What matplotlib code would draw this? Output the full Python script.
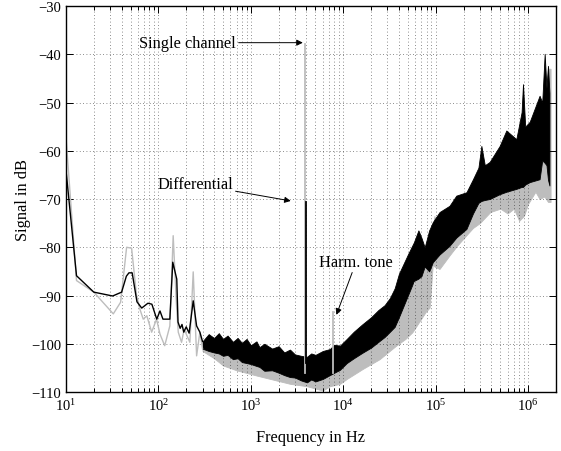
import matplotlib
matplotlib.use("Agg")
import matplotlib.pyplot as plt

plt.rcParams['font.family'] = ['Liberation Serif', 'DejaVu Serif']
plt.rcParams['mathtext.fontset'] = 'custom'
plt.rcParams['mathtext.rm'] = 'Liberation Serif'
plt.rcParams['mathtext.it'] = 'Liberation Serif:italic'

#low frequency part, single trace (Hz, dB)
black_f = [10, 13, 20, 32, 40, 45, 48, 52, 58.6, 66, 77, 85, 96, 104, 112, 133, 143, 158, 163,
           172, 180, 188, 200, 215, 238, 259, 281, 300]
black_db = [-64.0, -85.9, -89.3, -90.1, -89.3, -86.0, -85.3, -85.3, -91.3, -92.6, -91.6, -91.8, -94.9, -93.2, -94.9, -94.9, -83.1, -86.6, -95.5,
            -96.8, -96.0, -97.6, -96.5, -97.8, -91.1, -96.3, -97.6, -99.5]

grey_f = [10, 13, 20, 32.5, 39, 45.3, 51.3, 58, 63, 68.5, 75, 84.5, 95.5, 104, 117, 133, 144.5, 157, 164, 178,
          190, 219, 238, 259, 281, 300]
grey_db = [-57.2, -86.9, -89.3, -93.8, -91.4, -80.0, -80.2, -90.0, -92.8, -94.9, -94.2, -97.6, -94.9, -98.0, -100.4, -96.3, -77.6, -92.1, -97.6, -99.7,
           -97.0, -99.7, -85.1, -102.5, -97.6, -101.0]

#noisy part, upper / lower envelope (Hz, dB)
black_band_f = [300, 350, 400, 450, 500, 560, 640, 720, 800, 900, 1000, 1150, 1240, 1400, 1700, 2000,
                2300, 2650, 3000, 3500, 4050, 4500, 5000, 6000, 7150, 8000, 9200, 10900, 13000,
                16000, 20000, 24000, 28000, 32000, 36000, 40000, 50000, 58000, 65000, 70000, 76000, 85000, 93000, 110000,
                141000, 167000, 215000, 253000, 290000, 312000, 340000, 384000, 492000, 581000, 745000,
                850000, 880000, 930000, 1040000, 1330000, 1420000, 1510000, 1580000, 1640000, 1700000]
black_band_hi = [-99.5, -98.0, -98.8, -97.8, -99.0, -98.3, -99.6, -98.8, -99.8, -99.0, -100.3, -99.5, -100.7, -100.0, -101.0, -100.5,
                 -101.8, -101.2, -102.2, -102.5, -102.7, -102.0, -102.3, -101.5, -101.1, -100.2, -100.4, -99.0, -97.5,
                 -96.0, -94.5, -93.0, -92.0, -90.5, -88.5, -85.5, -81.5, -79.0, -76.5, -78.0, -80.0, -76.5, -74.8, -72.7,
                 -71.4, -69.3, -68.6, -65.9, -63.5, -59.0, -63.0, -62.3, -59.0, -55.8, -57.6,
                 -52.0, -46.2, -55.0, -54.0, -48.6, -50.0, -39.9, -47.0, -42.4, -48.0]
black_band_lo = [-101.0, -101.5, -101.8, -102.0, -102.5, -102.3, -103.2, -103.0, -103.8, -104.0, -104.2, -104.6, -104.8, -105.6, -105.5, -106.0,
                 -106.5, -106.9, -107.0, -107.6, -108.0, -107.4, -107.8, -107.3, -106.5, -106.0, -105.4, -104.0, -103.0,
                 -101.9, -100.8, -99.6, -98.6, -97.5, -96.5, -94.5, -90.0, -87.0, -86.5, -86.0, -84.0, -85.0, -83.1, -81.5,
                 -79.7, -78.0, -76.2, -73.0, -70.8, -70.4, -70.2, -70.0, -69.0, -68.5, -67.9,
                 -67.5, -67.5, -67.0, -66.5, -65.9, -62.0, -62.5, -63.0, -66.0, -67.2]

grey_band_f = [300, 400, 500, 700, 1160, 2650, 4050, 6000, 7150, 9200, 10900, 16300, 24700, 37300, 47000,
               56000, 78000, 86000, 93000, 97000, 110000, 141000, 170000, 215000, 253000, 300000, 390000,
               500000, 600000, 700000, 800000, 900000, 1000000, 1200000, 1330000, 1500000, 1640000, 1750000]
grey_band_hi = [-100.5, -99.5, -100.5, -101.0, -102.0, -104.0, -104.5, -104.5, -104.0, -103.0, -102.0, -99.5, -97.0, -94.0, -91.0,
                -88.0, -84.0, -80.0, -76.0, -73.5, -78.0, -76.0, -74.0, -72.0, -69.0, -67.0, -66.0,
                -65.0, -64.0, -63.0, -62.0, -62.0, -61.0, -60.0, -58.0, -52.0, -43.0, -43.0]
grey_band_lo = [-101.5, -103.0, -104.5, -105.5, -106.6, -108.3, -108.8, -109.7, -108.8, -108.3, -107.3, -105.2, -103.2, -100.4, -99.0,
                -97.6, -93.4, -92.5, -83.5, -84.0, -84.5, -81.7, -79.7, -77.5, -76.0, -75.0, -72.7,
                -72.0, -73.0, -72.0, -74.5, -73.5, -71.0, -68.5, -70.0, -69.5, -70.6, -70.6]

#single tones (Hz, peak dB)
grey_tone_f = [3850, 7800]
grey_tone_db = [-37.9, -93.4]
black_tone_f = [4000]
black_tone_db = [-70.6]

GREY = '#bdbdbd'

def main():
    fig = plt.figure(figsize=(5.61, 4.52), dpi=100)
    ax = fig.add_axes([0.1176, 0.1305, 0.8734, 0.854])
    ax.set_xscale('log')

    #grey trace first, black on top
    ax.plot(grey_f, grey_db, color=GREY, lw=1.0)
    ax.fill_between(grey_band_f, grey_band_lo, grey_band_hi, color=GREY, lw=0.6)
    for f, db in zip(grey_tone_f, grey_tone_db):
        ax.plot([f, f], [-106, db], color=GREY, lw=1.3)

    ax.plot(black_f, black_db, color='k', lw=1.0)
    ax.fill_between(black_band_f, black_band_lo, black_band_hi, color='k', lw=0.6)
    for f, db in zip(black_tone_f, black_tone_db):
        ax.plot([f, f], [-104, db], color='k', lw=1.3)

    ax.set_xlim(10, 2e6)
    ax.set_ylim(-110, -30)
    ax.set_yticks(range(-110, -29, 10))

    ax.grid(True, which='both', axis='x', ls=(0, (1, 3)), color='k', lw=0.6, alpha=0.6)
    ax.grid(True, which='major', axis='y', ls=(0, (1, 3)), color='k', lw=0.6, alpha=0.6)
    ax.tick_params(which='both', direction='in', top=True, right=True, labelsize=10.5, width=0.7)
    ax.tick_params(which='major', length=5)
    ax.tick_params(which='minor', length=3)
    for s in ax.spines.values():
        s.set_linewidth(1.0)

    ax.set_xlabel('Frequency in Hz', fontsize=11.8, labelpad=12)
    ax.set_ylabel('Signal in dB', fontsize=11.8, labelpad=0)

    arrow = dict(arrowstyle='-|>', color='k', lw=0.7, shrinkA=0, shrinkB=0, mutation_scale=9)
    ax.annotate('Single channel', xy=(3650, -37.6), xytext=(689, -37.6), ha='right', va='center',
                fontsize=11.8, arrowprops=arrow)
    ax.annotate('Differential', xy=(2700, -70.4), xytext=(638, -66.9), ha='right', va='center',
                fontsize=11.8, arrowprops=arrow)
    ax.annotate('Harm. tone', xy=(8430, -94.0), xytext=(13800, -83.0), ha='center', va='center',
                fontsize=11.8, arrowprops=arrow)

    fig.savefig('out.png', dpi=100)

if __name__ == "__main__":
    main()
